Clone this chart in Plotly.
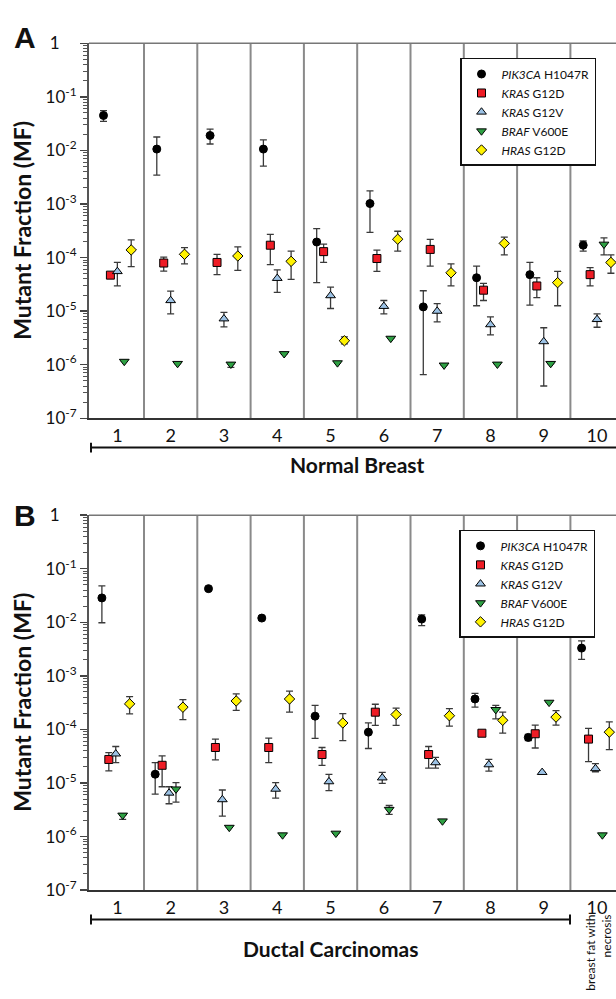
import math
import plotly.graph_objects as go

# ---------------- data ----------------
categories = [1, 2, 3, 4, 5, 6, 7, 8, 9, 10]
cat_labels = ["1", "2", "3", "4", "5", "6", "7", "8", "9", "10"]
series_names = ["<i>PIK3CA</i> H1047R", "<i>KRAS</i> G12D", "<i>KRAS</i> G12V",
                "<i>BRAF</i> V600E", "<i>HRAS</i> G12D"]

# Panel A  (Normal Breast)  -- value, upper bound, lower bound (None = no bar)
A_pik3ca = [0.045, 0.0106, 0.019, 0.0106, 1.95e-4, 1.02e-3, 1.2e-5, 4.2e-5, 4.8e-5, 1.7e-4]
A_pik3ca_hi = [0.0555, 0.0178, 0.0251, 0.0158, 3.47e-4, 1.76e-3, 2.4e-5, 6.9e-5, 8.1e-5, 2.04e-4]
A_pik3ca_lo = [0.0349, 3.47e-3, 0.0132, 5.1e-3, 3.4e-5, 2.95e-4, 6.5e-7, 1.26e-5, 1.29e-5, 1.32e-4]

A_kras_g12d = [4.7e-5, 7.9e-5, 8.1e-5, 1.7e-4, 1.29e-4, 9.6e-5, 1.42e-4, 2.46e-5, 2.95e-5, 4.8e-5]
A_kras_g12d_hi = [None, 1.02e-4, 1.15e-4, 2.7e-4, 1.78e-4, 1.38e-4, 2.19e-4, 3.3e-5, 4.2e-5, 6.5e-5]
A_kras_g12d_lo = [None, 5.6e-5, 4.8e-5, 7.4e-5, 8.1e-5, 5.5e-5, 6.9e-5, 1.58e-5, 1.78e-5, 2.95e-5]

A_kras_g12v = [5.5e-5, 1.58e-5, 7.2e-6, 4.1e-5, 1.95e-5, 1.23e-5, 1.0e-5, 5.6e-6, 2.7e-6, 7.0e-6]
A_kras_g12v_hi = [8.1e-5, 2.37e-5, 9.5e-6, 5.9e-5, 2.8e-5, 1.58e-5, 1.38e-5, 7.8e-6, 4.9e-6, 8.9e-6]
A_kras_g12v_lo = [2.95e-5, 8.9e-6, 5.1e-6, 2.24e-5, 1.12e-5, 8.9e-6, 6.3e-6, 3.6e-6, 4.0e-7, 5.0e-6]

A_braf = [1.15e-6, 1.05e-6, 1.02e-6, 1.6e-6, 1.08e-6, 3.1e-6, 9.8e-7, 1.02e-6, 1.05e-6, 1.77e-4]
A_braf_hi = [None, None, 1.02e-6, None, None, None, None, None, None, 2.34e-4]
A_braf_lo = [None, None, 8.9e-7, None, None, None, None, None, None, 1.12e-4]

A_hras = [1.39e-4, 1.15e-4, 1.07e-4, 8.5e-5, 2.8e-6, 2.2e-4, 5.2e-5, 1.84e-4, 3.4e-5, 8.1e-5]
A_hras_hi = [2.14e-4, 1.53e-4, 1.58e-4, 1.32e-4, 3.3e-6, 3.1e-4, 7.6e-5, 2.4e-4, 5.5e-5, 1.12e-4]
A_hras_lo = [6.8e-5, 7.6e-5, 5.75e-5, 3.9e-5, 2.45e-6, 1.32e-4, 2.95e-5, 1.12e-4, 1.26e-5, 5.1e-5]

# Panel B  (Ductal Carcinomas + breast fat with necrosis)
B_pik3ca = [0.0285, 1.46e-5, 0.0425, 0.012, 1.77e-4, 8.9e-5, 0.0115, 3.7e-4, 7.1e-5, 3.3e-3]
B_pik3ca_hi = [0.048, 2.4e-5, None, None, 2.8e-4, 1.32e-4, 0.0138, 4.7e-4, 8.1e-5, 4.5e-3]
B_pik3ca_lo = [9.8e-3, 6.2e-6, None, None, 6.8e-5, 4.4e-5, 8.7e-3, 2.6e-4, 6.2e-5, 2.04e-3]

B_kras_g12d = [2.75e-5, 2.14e-5, 4.6e-5, 4.6e-5, 3.4e-5, 2.1e-4, 3.4e-5, 8.5e-5, 8.3e-5, 6.6e-5]
B_kras_g12d_hi = [3.7e-5, 3.2e-5, 6.6e-5, 6.9e-5, 4.6e-5, 2.95e-4, 4.8e-5, None, 1.2e-4, 1.05e-4]
B_kras_g12d_lo = [1.68e-5, 8.5e-6, 2.7e-5, 2.4e-5, 2.14e-5, 1.19e-4, 1.9e-5, None, 4.5e-5, 2.5e-5]

B_kras_g12v = [3.5e-5, 6.5e-6, 4.9e-6, 7.7e-6, 1.06e-5, 1.25e-5, 2.4e-5, 2.2e-5, 1.58e-5, 1.86e-5]
B_kras_g12v_hi = [4.8e-5, 8.5e-6, 7.4e-6, 1.02e-5, 1.45e-5, 1.58e-5, 3.0e-5, 2.75e-5, None, 2.3e-5]
B_kras_g12v_lo = [2.4e-5, 4.1e-6, 2.4e-6, 5.2e-6, 7.2e-6, 9.8e-6, 1.9e-5, 1.66e-5, None, 1.62e-5]

B_braf = [2.5e-6, 7.7e-6, 1.48e-6, 1.07e-6, 1.15e-6, 3.2e-6, 1.95e-6, 2.34e-4, 3.2e-4, 1.07e-6]
B_braf_hi = [2.5e-6, 1.02e-5, None, None, None, 3.8e-6, None, 2.8e-4, None, None]
B_braf_lo = [2.1e-6, 4.4e-6, None, None, None, 2.6e-6, None, 1.58e-4, None, None]

B_hras = [3.0e-4, 2.6e-4, 3.4e-4, 3.7e-4, 1.32e-4, 1.9e-4, 1.8e-4, 1.48e-4, 1.7e-4, 8.9e-5]
B_hras_hi = [4.1e-4, 3.6e-4, 4.6e-4, 5.2e-4, 1.97e-4, 2.5e-4, 2.45e-4, 2.1e-4, 2.24e-4, 1.38e-4]
B_hras_lo = [1.95e-4, 1.53e-4, 2.26e-4, 2.1e-4, 6.2e-5, 1.19e-4, 1.15e-4, 8.5e-5, 1.2e-4, 4.2e-5]

y_tickvals = [1e-7, 1e-6, 1e-5, 1e-4, 1e-3, 1e-2, 1e-1, 1]
y_ticktext = ["10<sup>-7</sup>", "10<sup>-6</sup>", "10<sup>-5</sup>", "10<sup>-4</sup>",
              "10<sup>-3</sup>", "10<sup>-2</sup>", "10<sup>-1</sup>", "1\u2002\u2002"]
SHADE_BELOW = 1e-5

# ---------------- styling ----------------
W, H = 616, 999
FONT = "Lato, 'Open Sans', sans-serif"
symbols = ["circle", "square", "triangle-up", "triangle-down", "diamond"]
fills = ["#000000", "#ee1c25", "#9cc2e5", "#2ea043", "#fff200"]
sizes = [8, 8, 8.5, 8.5, 8]
dodge = [-0.26, -0.13, 0.0, 0.13, 0.26]


def px(x):
    return x / W


def py(y):
    return (H - y) / H


def errs(vals, hi, lo):
    plus = [(h - v) if h is not None else 0 for v, h in zip(vals, hi)]
    minus = [(v - l) if l is not None else 0 for v, l in zip(vals, lo)]
    return plus, minus


panels = {
    "A": dict(
        series=[(A_pik3ca, A_pik3ca_hi, A_pik3ca_lo), (A_kras_g12d, A_kras_g12d_hi, A_kras_g12d_lo),
                (A_kras_g12v, A_kras_g12v_hi, A_kras_g12v_lo), (A_braf, A_braf_hi, A_braf_lo),
                (A_hras, A_hras_hi, A_hras_lo)],
        xa="x", ya="y", legend="legend", shift=0.0),
    "B": dict(
        series=[(B_pik3ca, B_pik3ca_hi, B_pik3ca_lo), (B_kras_g12d, B_kras_g12d_hi, B_kras_g12d_lo),
                (B_kras_g12v, B_kras_g12v_hi, B_kras_g12v_lo), (B_braf, B_braf_hi, B_braf_lo),
                (B_hras, B_hras_hi, B_hras_lo)],
        xa="x2", ya="y2", legend="legend2", shift=-0.03),
}

fig = go.Figure()
for key, p in panels.items():
    for i, (vals, hi, lo) in enumerate(p["series"]):
        plus, minus = errs(vals, hi, lo)
        fig.add_trace(go.Scatter(
            x=[c + dodge[i] + p["shift"] for c in categories], y=vals,
            mode="markers", name=series_names[i],
            xaxis=p["xa"], yaxis=p["ya"], legend=p["legend"],
            marker=dict(symbol=symbols[i], size=sizes[i], color=fills[i],
                        line=dict(color="#000000", width=1)),
            error_y=dict(type="data", symmetric=False, array=plus, arrayminus=minus,
                         color="#3a3a3a", thickness=1.3, width=3.5),
            hoverinfo="skip",
        ))

# panel geometry (pixels)
LEFT = 89
A_TOP, A_BOT = 33, 416
B_TOP, B_BOT = 515, 898
UNIT = 53.3                      # pixels per category
x_lo = 1.5 - (144 - LEFT) / UNIT
x_hi = 1.5 + (616 - 144) / UNIT

xaxis_common = dict(
    range=[x_lo, x_hi], domain=[px(LEFT), 1], tickmode="array",
    tickvals=categories, ticktext=cat_labels, ticks="", showgrid=False, zeroline=False,
    showline=True, linecolor="#333333", linewidth=2,
    tickfont=dict(family=FONT, size=18, color="#111111"), fixedrange=True,
)
yaxis_common = dict(
    type="log", range=[-7, 0], tickmode="array", tickvals=y_tickvals, ticktext=y_ticktext,
    ticks="outside", ticklen=7, tickwidth=1.5, tickcolor="#444444",
    showline=True, linecolor="#555555", linewidth=2, showgrid=False, zeroline=False,
    tickfont=dict(family=FONT, size=17, color="#111111"),
    minor=dict(tickmode="array",
               tickvals=[k * 10.0 ** d for d in range(-7, 0) for k in range(2, 10)],
               ticks="outside", ticklen=4, tickwidth=1, tickcolor="#555555", showgrid=False),
    fixedrange=True,
)

legend_common = dict(
    bgcolor="white", bordercolor="#111111", borderwidth=1.5,
    font=dict(family=FONT, size=12, color="#111111"),
    xanchor="right", yanchor="top", itemwidth=30, tracegroupgap=0,
    itemclick=False, itemdoubleclick=False,
)

shapes = []
for xa, ya in (("x", "y"), ("x2", "y2")):
    shapes.append(dict(type="rect", xref=f"{xa} domain", yref=ya, x0=0, x1=1,
                       y0=-7, y1=math.log10(SHADE_BELOW),
                       fillcolor="#e6e7e9", line=dict(width=0), layer="below"))
    for c in categories[:-1]:
        shapes.append(dict(type="line", xref=xa, yref=f"{ya} domain", x0=c + 0.5, x1=c + 0.5,
                           y0=0, y1=1, line=dict(color="#8a8a8a", width=2), layer="below"))
    shapes.append(dict(type="line", xref=f"{xa} domain", yref=f"{ya} domain", x0=0, x1=1,
                       y0=1, y1=1, line=dict(color="#777777", width=1.5), layer="below"))

# brackets under the axes
BR_A = 446
shapes.append(dict(type="line", xref="paper", yref="paper", x0=px(LEFT + 2), x1=1,
                   y0=py(BR_A), y1=py(BR_A), line=dict(color="#111111", width=2)))
shapes.append(dict(type="line", xref="paper", yref="paper", x0=px(LEFT + 2), x1=px(LEFT + 2),
                   y0=py(BR_A - 5), y1=py(BR_A + 5), line=dict(color="#111111", width=2)))
BR_B = 928
BR_B_END = 570
shapes.append(dict(type="line", xref="paper", yref="paper", x0=px(LEFT + 2), x1=px(BR_B_END),
                   y0=py(BR_B), y1=py(BR_B), line=dict(color="#111111", width=2)))
for xx in (LEFT + 2, BR_B_END):
    shapes.append(dict(type="line", xref="paper", yref="paper", x0=px(xx), x1=px(xx),
                       y0=py(BR_B - 5), y1=py(BR_B + 5), line=dict(color="#111111", width=2)))


def label(text, x, y, size, angle=0, family=FONT, **kw):
    return dict(text=text, x=px(x), y=py(y), xref="paper", yref="paper", showarrow=False,
                xanchor=kw.pop("xanchor", "center"), yanchor=kw.pop("yanchor", "middle"),
                textangle=angle, font=dict(family=family, size=size, color="#111"), **kw)


annotations = [
    label("<b>A</b>", 25, 27, 30, family="Liberation Sans, Arial, sans-serif"),
    label("<b>B</b>", 25, 515, 30, family="Liberation Sans, Arial, sans-serif"),
    label("<b>Mutant Fraction (MF)</b>", 22, (A_TOP + A_BOT) / 2, 23, angle=-90),
    label("<b>Mutant Fraction (MF)</b>", 22, (B_TOP + B_BOT) / 2, 23, angle=-90),
    label("<b>Normal Breast</b>", 357, 463, 21),
    label("<b>Ductal Carcinomas</b>", 331, 958, 21),
    label("breast fat with<br>necrosis", 599, 921, 12, angle=-90, yanchor="top", align="right"),
]

fig.update_layout(
    width=W, height=H, margin=dict(l=0, r=0, t=0, b=0),
    paper_bgcolor="white", plot_bgcolor="white",
    xaxis=dict(**xaxis_common, anchor="y"),
    yaxis=dict(**yaxis_common, domain=[py(A_BOT), py(A_TOP)], anchor="x"),
    xaxis2=dict(**xaxis_common, anchor="y2"),
    yaxis2=dict(**yaxis_common, domain=[py(B_BOT), py(B_TOP)], anchor="x2"),
    legend=dict(**legend_common, x=px(596), y=py(48)),
    legend2=dict(**legend_common, x=px(595), y=py(530)),
    shapes=shapes, annotations=annotations, showlegend=True,
)

# remove the page's default 8px body margin so the figure fills the window exactly
fig.write_html("out.html", config={"displayModeBar": False, "staticPlot": True},
               post_script="document.body.style.margin='0';document.body.style.overflow='hidden';")
